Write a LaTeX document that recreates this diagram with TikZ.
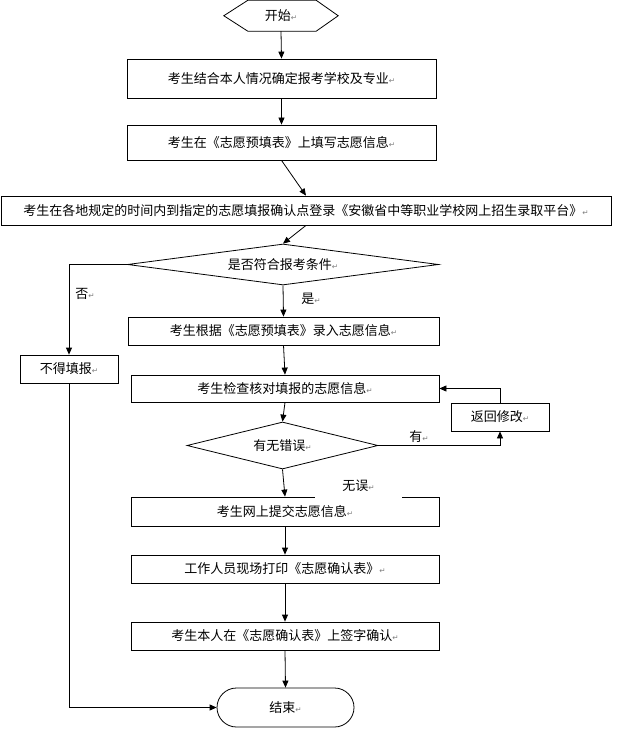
\documentclass[tikz,border=0pt]{standalone}
\usepackage{fontspec}
\newfontfamily\cjk{Noto Sans CJK SC}
\newfontfamily\symf{DejaVu Sans}
\usetikzlibrary{shapes.geometric,arrows.meta,calc}
\newcommand\retm{{\symf\color{gray}\fontsize{7.5}{7.5}\selectfont ↵}}
\begin{document}
\begin{tikzpicture}[x=1pt,y=-1pt,
  every node/.style={font=\cjk\fontsize{13}{15}\selectfont, inner sep=0pt},
  box/.style={draw, line width=0.8pt, rectangle},
  dia/.style={draw, line width=0.8pt, diamond, aspect=4},
  arr/.style={-{Triangle[length=7pt,width=6pt]}, line width=0.8pt}]
\useasboundingbox (0,0) rectangle (620,735);
\fill[white] (0,0) rectangle (620,735);

\node (start) at (281,15.75) [minimum width=114pt, minimum height=30.5pt] {开始\retm};
\draw[line width=0.8pt] (start.west) -- ([xshift=24pt]start.north west) -- ([xshift=-22pt]start.north east) -- (start.east) -- ([xshift=-22pt]start.south east) -- ([xshift=24pt]start.south west) -- cycle;

\node[box, minimum width=309pt, minimum height=39pt] (b1) at (281.5,78.5) {考生结合本人情况确定报考学校及专业\retm};
\node[box, minimum width=309pt, minimum height=35pt] (b2) at (281.5,142.5) {考生在《志愿预填表》上填写志愿信息\retm};
\node[box, minimum width=610pt, minimum height=29pt] (b3) at (306,210.5) {考生在各地规定的时间内到指定的志愿填报确认点登录《安徽省中等职业学校网上招生录取平台》\retm};
\node[dia, aspect=7.6, minimum width=311pt, minimum height=41pt] (d1) at (283,264.5) {是否符合报考条件\retm};
\node[box, minimum width=311pt, minimum height=28pt] (b4) at (283.5,331) {考生根据《志愿预填表》录入志愿信息\retm};
\node[box, minimum width=98pt, minimum height=28pt] (no) at (69,369) {不得填报\retm};
\node[box, minimum width=308pt, minimum height=27pt] (b5) at (285,388.5) {考生检查核对填报的志愿信息\retm};
\node[box, minimum width=98pt, minimum height=28pt] (fix) at (500,417) {返回修改\retm};
\node[dia, minimum width=191pt, minimum height=47pt] (d2) at (282.5,445.5) {有无错误\retm};
\node[box, minimum width=308pt, minimum height=29pt] (b6) at (285,511.5) {考生网上提交志愿信息\retm};
\node[box, minimum width=308pt, minimum height=28pt] (b7) at (285,569) {工作人员现场打印《志愿确认表》\retm};
\node[box, minimum width=308pt, minimum height=28pt] (b8) at (285,636) {考生本人在《志愿确认表》上签字确认\retm};
\node[draw, line width=0.8pt, rounded corners=19.5pt, minimum width=137pt, minimum height=39pt] (end) at (285.5,707.5) {结束\retm};

\node (lno) at (85,294) {否\retm};
\node (lyes) at (311,299) {是\retm};
\node (lhas) at (419,437) {有\retm};

\draw[arr] (start.south) -- (b1.north);
\draw[arr] (b1.south) -- (b2.north);
\draw[arr] (b2.south) -- (b3.north);
\draw[arr] (b3.south) -- (d1.north);
\draw[arr] (d1.west) -| (no.north);
\draw[arr] (d1.south) -- (b4.north);
\draw[arr] (b4.south) -- (b5.north);
\draw[arr] (b5.south) -- (d2.north);
\draw[arr] (d2.east) -| (fix.south);
\draw[arr] (fix.north) |- (b5.east);
\draw[arr] (d2.south) -- (b6.north);
\draw[arr] (b6.south) -- (b7.north);
\draw[arr] (b7.south) -- (b8.north);
\draw[arr] (b8.south) -- (end.north);
\draw[arr] (no.south) |- (end.west);

\node[fill=white, minimum width=87pt, minimum height=25pt] (lok) at (358.5,485.5) {无误\retm};
\end{tikzpicture}
\end{document}
